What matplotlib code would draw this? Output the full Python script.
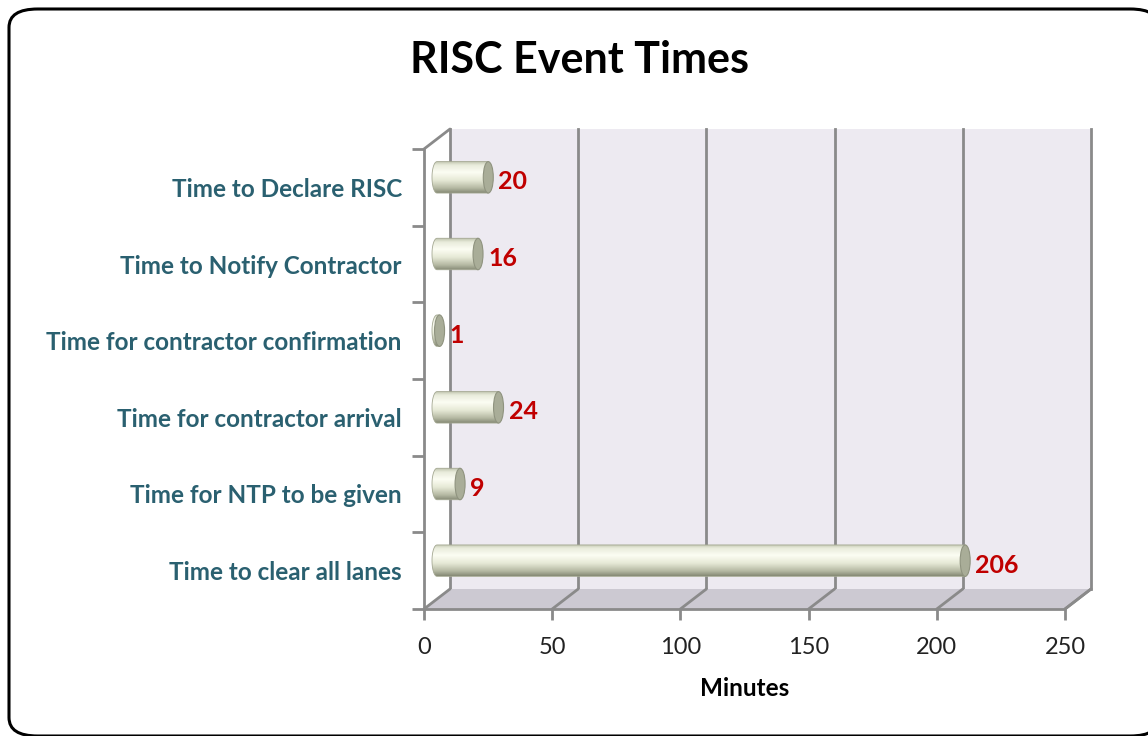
import numpy as np
import matplotlib.pyplot as plt
from matplotlib.patches import Polygon, Ellipse, FancyBboxPatch
from matplotlib.colors import LinearSegmentedColormap
from matplotlib.lines import Line2D

categories = [
    "Time to Declare RISC",
    "Time to Notify Contractor",
    "Time for contractor confirmation",
    "Time for contractor arrival",
    "Time for NTP to be given",
    "Time to clear all lanes",
]
minutes = [20, 16, 1, 24, 9, 206]
x_ticks = [0, 50, 100, 150, 200, 250]

plt.rcParams['font.family'] = ['Lato', 'DejaVu Sans']

W, H = 1148, 736
fig = plt.figure(figsize=(W / 100, H / 100), dpi=100)


def box(left, top, right, bottom):
    # pixel box (image coords, y down) -> figure fraction rect
    return [left / W, 1 - bottom / H, (right - left) / W, (bottom - top) / H]


# rounded outer frame
fig.patches.append(FancyBboxPatch((9 / W, 1 - 736 / H), 1150 / W, 727 / H,
                                  boxstyle="round,pad=0,rounding_size=0.025",
                                  transform=fig.transFigure, fc='white',
                                  ec='black', lw=2.2, zorder=0))

# 3-D depth offset (pixels)
dx, dy = 26, 20
front = box(424, 149, 1065, 609)
back = box(424 + dx, 149 - dy, 1065 + dx, 609 - dy)
mid = box(424 + dx / 2, 149 - dy / 2, 1065 + dx / 2, 609 - dy / 2)

n = len(categories)
axb = fig.add_axes(back, zorder=1)
ax = fig.add_axes(front, zorder=2)
axm = fig.add_axes(mid, zorder=3)
for a in (axb, ax, axm):
    a.set_xlim(0, 250)
    a.set_ylim(n, 0)
axm.axis('off')

# back wall with gridlines
axb.set_facecolor('#edeaf1')
for s in axb.spines.values():
    s.set_visible(False)
axb.set_xticks([])
axb.set_yticks([])
for t in x_ticks:
    axb.axvline(t, color='#8a8a8a', lw=2, clip_on=False)

# front axes: only ticks & labels
ax.patch.set_visible(False)
for s in ax.spines.values():
    s.set_visible(False)
ax.set_xticks(x_ticks)
ax.set_xticklabels([str(t) for t in x_ticks], fontsize=17, color='#222222')
ax.tick_params(axis='x', length=8, width=2, color='#8a8a8a', pad=12)
ax.set_yticks(np.arange(n + 1), minor=False)
ax.set_yticklabels([])
ax.tick_params(axis='y', length=9, width=2, color='#8a8a8a')
ax.set_yticks(np.arange(n) + 0.5, minor=True)
ax.set_yticklabels(categories, minor=True, fontsize=17.5, fontweight='bold',
                   color='#2a6070')
ax.tick_params(axis='y', which='minor', length=0, pad=16)
ax.set_xlabel('Minutes', fontsize=17.5, fontweight='bold', labelpad=14)

fig.canvas.draw()


def disp(a, x, y):
    return a.transData.transform((x, y))


# floor
f0, f1 = disp(ax, 0, n), disp(ax, 250, n)
b0, b1 = disp(axb, 0, n), disp(axb, 250, n)
fig.patches.append(Polygon([f0, f1, b1, b0], closed=True, transform=None,
                           fc='#ccc9d2', ec='none', zorder=1.5))
gl = dict(color='#8a8a8a', lw=2, transform=None, zorder=2.5, solid_capstyle='round')
for t in x_ticks:
    p, q = disp(ax, t, n), disp(axb, t, n)
    fig.add_artist(Line2D([p[0], q[0]], [p[1], q[1]], **gl))
fig.add_artist(Line2D([f0[0], f1[0]], [f0[1], f1[1]], **gl))
# left side wall edges
lt, lb = disp(ax, 0, 0), disp(ax, 0, n)
bt = disp(axb, 0, 0)
fig.add_artist(Line2D([lt[0], lb[0]], [lt[1], lb[1]], **gl))
fig.add_artist(Line2D([lt[0], bt[0]], [lt[1], bt[1]], **gl))

# cylinders
cyl = LinearSegmentedColormap.from_list('cyl', [
    (0.0, '#bfc3ad'), (0.12, '#e9ecdc'), (0.35, '#fcfdf3'),
    (0.6, '#e6e9d6'), (0.85, '#b5b9a3'), (1.0, '#868a76')])
grad = np.linspace(0, 1, 64).reshape(-1, 1)
px_per_unit = (f1[0] - f0[0]) / 250
cap_w = 10 / px_per_unit
bar_h = 0.41
for i, v in enumerate(minutes):
    yc = i + 0.5
    th = np.linspace(np.pi / 2, 3 * np.pi / 2, 30)
    left = np.column_stack([cap_w / 2 * np.cos(th), yc - bar_h / 2 * np.sin(th)])
    verts = np.vstack([left, [[v, yc + bar_h / 2], [v, yc - bar_h / 2]]])
    clip = Polygon(verts, closed=True, transform=axm.transData)
    im = axm.imshow(grad, extent=[-cap_w / 2, v, yc + bar_h / 2, yc - bar_h / 2],
                    aspect='auto', cmap=cyl, interpolation='bilinear', zorder=2)
    im.set_clip_box(fig.bbox)
    im.set_clip_path(clip)
    axm.add_patch(Polygon(verts, closed=True, fc='none', ec='#a4a892', lw=0.6,
                          zorder=3, clip_on=False))
    axm.add_patch(Ellipse((v, yc), cap_w, bar_h, fc='#a9ad98', ec='#8f937f',
                          lw=0.8, zorder=4, clip_on=False))
    axm.text(v + cap_w / 2 + 2.0, yc + 0.06, str(v), ha='left', va='center',
             fontsize=18, fontweight='bold', color='#c00000', zorder=5)
axm.set_xlim(0, 250)
axm.set_ylim(n, 0)

# right wall edge
rb, rf = disp(axb, 250, n), disp(ax, 250, n)
fig.add_artist(Line2D([rb[0], rf[0]], [rb[1], rf[1]], **gl))

fig.text(580 / W, 1 - 60 / H, 'RISC Event Times', ha='center', va='center',
         fontsize=31, fontweight='bold', color='black')

fig.savefig('out.png', dpi=100)
